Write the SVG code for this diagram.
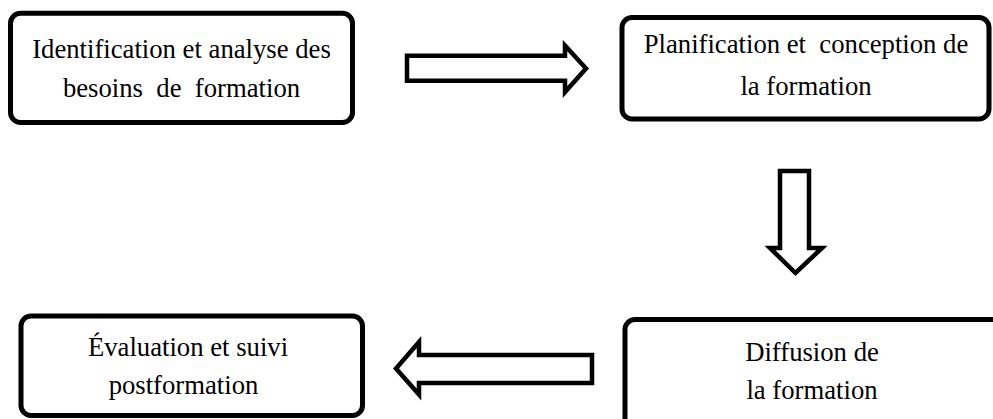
<svg xmlns="http://www.w3.org/2000/svg" width="993" height="419" viewBox="0 0 993 419">
<style>
.box{fill:#fff;stroke:#000;stroke-width:5}
.arr{fill:#fff;stroke:#000;stroke-width:4.5;stroke-linejoin:miter}
.t{font-family:"Liberation Serif","Times New Roman","DejaVu Serif",serif;font-size:26.7px;fill:#000;text-anchor:middle;white-space:pre}
</style>
<rect width="993" height="419" fill="#fff"/>
<g id="connectors">
<polygon class="arr" points="407,55.8 565,55.8 565,45.5 586,68.5 565,92 565,80.8 407,80.8"/>
<polygon class="arr" points="780,171 809,171 809,248 822,248 795.5,273 770,248 780,248"/>
<polygon class="arr" points="592,355 419,355 419,342 396,368.5 419,394.5 419,383 592,383"/>
</g>
<g id="node1">
<rect class="box" x="10.5" y="13.3" width="342" height="109.2" rx="10"/>
<text class="t" x="181.5" y="57.5">Identification et analyse des</text>
<text class="t" x="181.5" y="96.5" xml:space="preserve">besoins  de  formation</text>
</g>
<g id="node2">
<rect class="box" x="622" y="17.5" width="367" height="101.5" rx="10"/>
<text class="t" x="806" y="53" xml:space="preserve">Planification et  conception de</text>
<text class="t" x="806" y="95">la formation</text>
</g>
<g id="node3">
<rect class="box" x="625" y="319.5" width="400" height="130" rx="10"/>
<text class="t" x="812" y="360.5">Diffusion de</text>
<text class="t" x="812" y="399">la formation</text>
</g>
<g id="node4">
<rect class="box" x="21" y="316" width="341.5" height="99.5" rx="10"/>
<text class="t" x="188" y="356">Évaluation et suivi</text>
<text class="t" x="183.5" y="394">postformation</text>
</g>
</svg>
